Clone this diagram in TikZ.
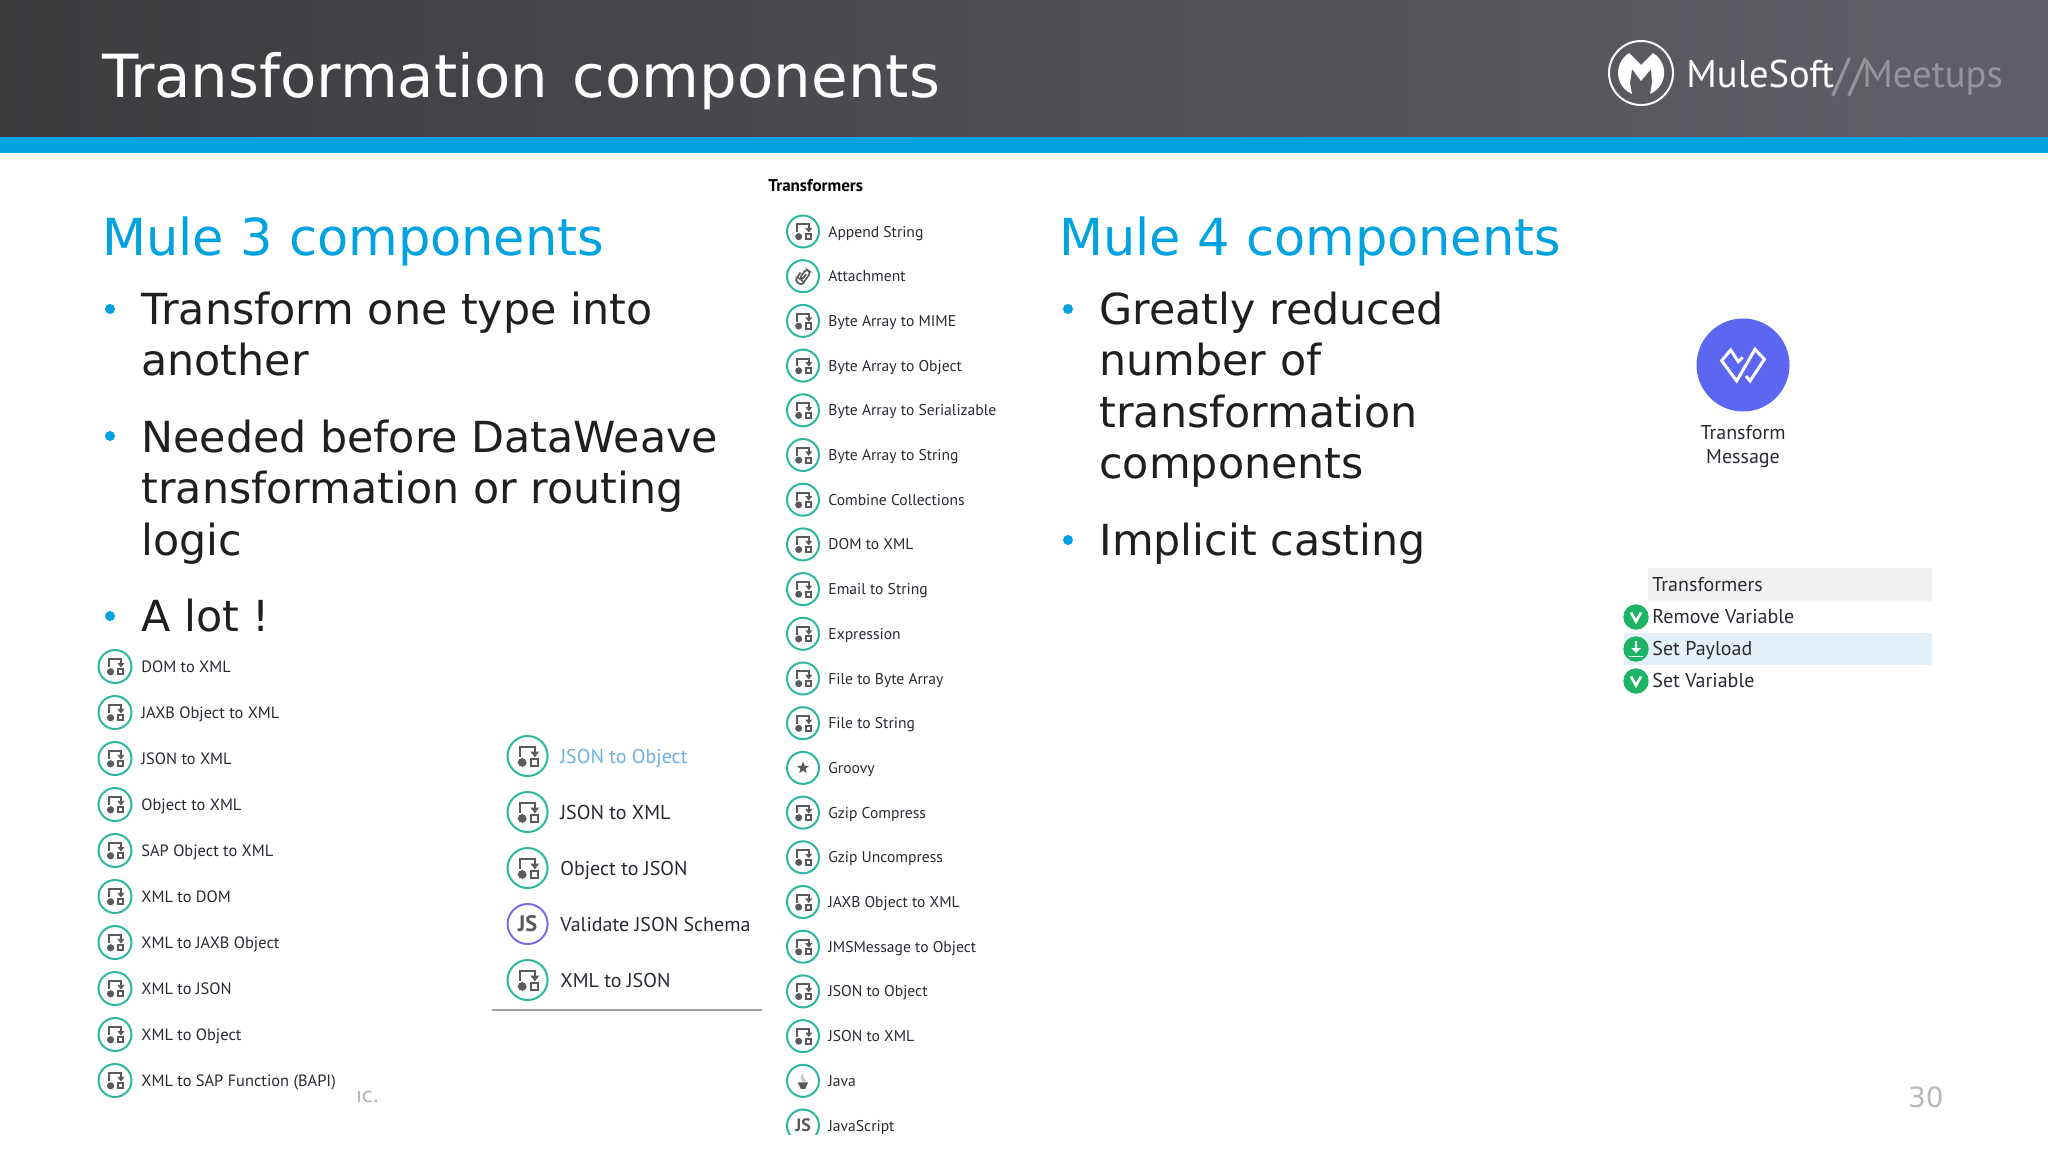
\documentclass[tikz,border=0pt]{standalone}
\usepackage{fontspec}
\setmainfont{DejaVu Sans}
\newfontfamily\uif{PT Sans}
\definecolor{mblue}{HTML}{00A2DF}
\definecolor{teal1}{HTML}{2DB79F}
\definecolor{igrey}{HTML}{5A5A5E}
\definecolor{txt}{HTML}{2A2A33}
\definecolor{body}{HTML}{1F1F1F}
\definecolor{greenc}{HTML}{1DB364}
\definecolor{violet1}{HTML}{786EE6}
\definecolor{linkblue}{HTML}{6EB2E2}
\definecolor{hdrl}{HTML}{3B3C3E}
\definecolor{hdrm}{HTML}{50515A}
\definecolor{hdrr}{HTML}{606068}
\definecolor{tmblue}{HTML}{5C66F0}
\definecolor{palgrey}{HTML}{F1F0F0}
\definecolor{palblue}{HTML}{E3F1FC}
\definecolor{meetgrey}{HTML}{94959A}
\newcount\jscount
\tikzset{
  uitext/.style={anchor=base west,inner sep=0pt,text=txt,font=\uif\fontsize{8.2}{10}\selectfont},
  bigui/.style={anchor=base west,inner sep=0pt,text=txt,font=\uif\fontsize{10}{12}\selectfont},
  h2/.style={anchor=base west,inner sep=0pt,text=mblue,font=\fontsize{25.5}{30}\selectfont},
  bodyt/.style={anchor=base west,inner sep=0pt,text=body,font=\fontsize{21.4}{26}\selectfont},
  ring/.style={draw=teal1,line width=1pt,fill=white},
  logot/.style={anchor=base west,inner sep=0pt,font=\uif\fontsize{19.3}{24}\selectfont},
}
\newcommand{\iconbase}[3]{\draw[ring] (#1,#2) circle (#3);}
\newcommand{\iconc}[3]{\iconbase{#1}{#2}{#3}
  \begin{scope}[shift={(#1,#2)},scale=#3]
    \draw[igrey,line width=1pt] (-.36,.05) -- (-.36,-.44) -- (.36,-.44) -- (.36,-.2);
    \fill[igrey] (.14,-.22) -- (.58,-.22) -- (.36,.06) -- cycle;
    \fill[igrey] (-.27,.32) circle (.22);
    \draw[igrey,line width=1pt] (.18,.16) rectangle (.5,.48);
  \end{scope}}
\newcommand{\icona}[3]{\iconbase{#1}{#2}{#3}
  \begin{scope}[shift={(#1,#2)},scale=#3,rotate=-35]
    \draw[igrey,line width=.85pt,rounded corners=1.6pt] (.08,-.22) -- (.08,.25) -- (-.1,.25) -- (-.1,-.48) -- (.26,-.48) -- (.26,.52) -- (-.26,.52) -- (-.26,-.1);
  \end{scope}}
\newcommand{\icons}[3]{\iconbase{#1}{#2}{#3}
  \begin{scope}[shift={(#1,#2)},scale=#3*.8]
    \fill[igrey] (0,-.5) -- (.123,-.17) -- (.476,-.155) -- (.2,.065) -- (.294,.405) -- (0,.21) -- (-.294,.405) -- (-.2,.065) -- (-.476,-.155) -- (-.123,-.17) -- cycle;
  \end{scope}}
\newcommand{\iconj}[3]{\iconbase{#1}{#2}{#3}
  \begin{scope}[shift={(#1,#2)},scale=#3]
    \fill[gray!45] (.02,-.5) .. controls (-.3,-.2) and (-.1,-.05) .. (-.02,.05) -- (.2,.05) .. controls (.1,-.2) and (-.05,-.2) .. cycle;
    \fill[igrey] (-.32,.1) -- (.32,.1) -- (.14,.5) -- (-.14,.5) -- cycle;
  \end{scope}}
\newcommand{\iconJSgen}[4]{\draw[draw=#1,line width=1pt,fill=white] (#2,#3) circle (#4);
  \global\advance\jscount by 1
  \pgfmathsetmacro\jssize{#4*0.56}
  \node[inner sep=0pt,text=igrey,font=\uif\bfseries\fontsize{\jssize}{\jssize}\selectfont] (js\the\jscount) at (#2,#3) {JS};}
\newcommand{\iconJS}[3]{\iconJSgen{teal1}{#1}{#2}{#3}}
\newcommand{\greenv}[2]{\fill[greenc] (#1,#2) circle (12.7);
  \draw[white,line width=1.3pt] ({#1-5},{#2-4.5}) -- (#1,{#2+4.5}) -- ({#1+5},{#2-4.5});}
\begin{document}
\begin{tikzpicture}[x=0.5pt,y=-0.5pt]
\useasboundingbox (0,0) rectangle (2048,1152);
\fill[white] (0,0) rectangle (2048,1152);
% header
\shade[left color=hdrl,middle color=hdrm,right color=hdrr] (0,0) rectangle (2048,137);
\fill[mblue] (0,137) rectangle (2048,153);
\node[anchor=base west,inner sep=0pt,text=white,font=\fontsize{29.7}{34}\selectfont] (title) at (102,97) {Transformation\hspace{3pt} components};
% logo
\draw[white,line width=1pt] (1641,73) circle (32);
\fill[white] (1632,94) arc[start angle=113,end angle=239,radius=23] -- (1641,65) -- (1653,53) arc[start angle=-59,end angle=67,radius=23] -- (1652,83) -- (1651,69) -- (1641,81) -- (1632,69) -- (1630,83) -- cycle;
\node[logot,text=white] (mule) at (1686,87) {MuleSoft};
\node[logot,text=meetgrey,font=\uif\fontsize{23}{24}\selectfont] (slashes) at (1833,90) {//};
\node[logot,text=meetgrey] (meet) at (1862,87) {Meetups};
% left column
\node[h2] (m3) at (102,255) {Mule 3 components};
\foreach \x/\y/\t/\n in {141/324/Transform one type into/a1,141/375/another/a2,141/452/Needed before DataWeave/a3,141/503/transformation or routing/a4,141/555/logic/a5,141/631/A lot !/a6}
  \node[bodyt] (\n) at (\x,\y) {\t};
\foreach \y in {309,436,616} \fill[mblue] (110,\y) circle (5);
% right column
\node[h2] (m4) at (1059,255) {Mule 4 components};
\foreach \x/\y/\t/\n in {1099/324/Greatly reduced/b1,1099/375/number of/b2,1099/427/transformation/b3,1099/478/components/b4,1099/555/Implicit casting/b5}
  \node[bodyt] (\n) at (\x,\y) {\t};
\foreach \y in {309,540} \fill[mblue] (1068,\y) circle (5);
% left list
\foreach \t [count=\i, evaluate=\i as \yy using 666.5+46*(\i-1)] in {DOM to XML,JAXB Object to XML,JSON to XML,Object to XML,SAP Object to XML,XML to DOM,XML to JAXB Object,XML to JSON,XML to Object,XML to SAP Function (BAPI)}{
  \iconc{115}{\yy}{16.5}
  \node[uitext] (l\i) at (141,{\yy+6}) {\t};
}
% footer
\node[anchor=base west,inner sep=0pt,text=gray!60,font=\fontsize{10}{12}\selectfont] (foot) at (356,1102) {ıc.};
\node[anchor=base east,inner sep=0pt,text=gray!55,font=\fontsize{14}{16}\selectfont] (page) at (1944,1107) {30};
% middle list
\iconc{527.6}{756}{20}
\node[bigui,text=linkblue] (m1) at (560,763) {JSON to Object};
\iconc{527.6}{812}{20}
\node[bigui] (m2) at (560,819) {JSON to XML};
\iconc{527.6}{868}{20}
\node[bigui] (m3b) at (560,875) {Object to JSON};
\iconJSgen{violet1}{527.6}{924}{20}
\node[bigui] (m4b) at (560,931) {Validate JSON Schema};
\iconc{527.6}{980}{20}
\node[bigui] (m5) at (560,987) {XML to JSON};
\draw[gray!75,line width=.6pt] (492,1010) -- (762,1010);
% right list
\node[anchor=base west,inner sep=0pt,text=black,font=\uif\bfseries\fontsize{8.5}{10}\selectfont] (tr) at (768,191) {Transformers};
\foreach \t/\k [count=\i, evaluate=\i as \yy using 231.5+44.7*(\i-1)] in {Append String/c,Attachment/a,Byte Array to MIME/c,Byte Array to Object/c,Byte Array to Serializable/c,Byte Array to String/c,Combine Collections/c,DOM to XML/c,Email to String/c,Expression/c,File to Byte Array/c,File to String/c,Groovy/s,Gzip Compress/c,Gzip Uncompress/c,JAXB Object to XML/c,JMSMessage to Object/c,JSON to Object/c,JSON to XML/c,Java/j,JavaScript/JS}{
  \csname icon\k\endcsname{803}{\yy}{16}
  \node[uitext,font=\uif\fontsize{7.8}{10}\selectfont] (r\i) at (828,{\yy+5.5}) {\t};
}
\fill[white] (770,1135) rectangle (1000,1152);
% transform message
\fill[tmblue] (1743,365) circle (46.5);
\begin{scope}[shift={(1743,365)},scale=.3333]
\draw[white,line width=1.5pt,line join=miter] (-1,-23) -- (-14,-10) -- (-37,-45) -- (-64,-13) -- (-19,48) -- (36,-47) -- (64,-17) -- (21,48) -- (9,33);
\end{scope}
\node[anchor=base,inner sep=0pt,text=txt,font=\uif\fontsize{10}{12}\selectfont] (tm1) at (1743,439) {Transform};
\node[anchor=base,inner sep=0pt,text=txt,font=\uif\fontsize{10}{12}\selectfont] (tm2) at (1743,463) {Message};
% palette
\fill[palgrey] (1648,568) rectangle (1932,601);
\fill[palblue] (1624,633) rectangle (1932,665);
\node[bigui] (p0) at (1652,591) {Transformers};
\greenv{1636}{617}
\node[bigui] (p1) at (1652,623) {Remove Variable};
\fill[greenc] (1636,649) circle (12.7);
\draw[white,line width=1.1pt] (1636,641) -- (1636,650);
\fill[white] (1631,648) -- (1641,648) -- (1636,653) -- cycle;
\draw[white,line width=.9pt] (1629,656.5) -- (1643,656.5);
\node[bigui] (p2) at (1652,655) {Set Payload};
\greenv{1636}{681}
\node[bigui] (p3) at (1652,687) {Set Variable};
\end{tikzpicture}
\end{document}
